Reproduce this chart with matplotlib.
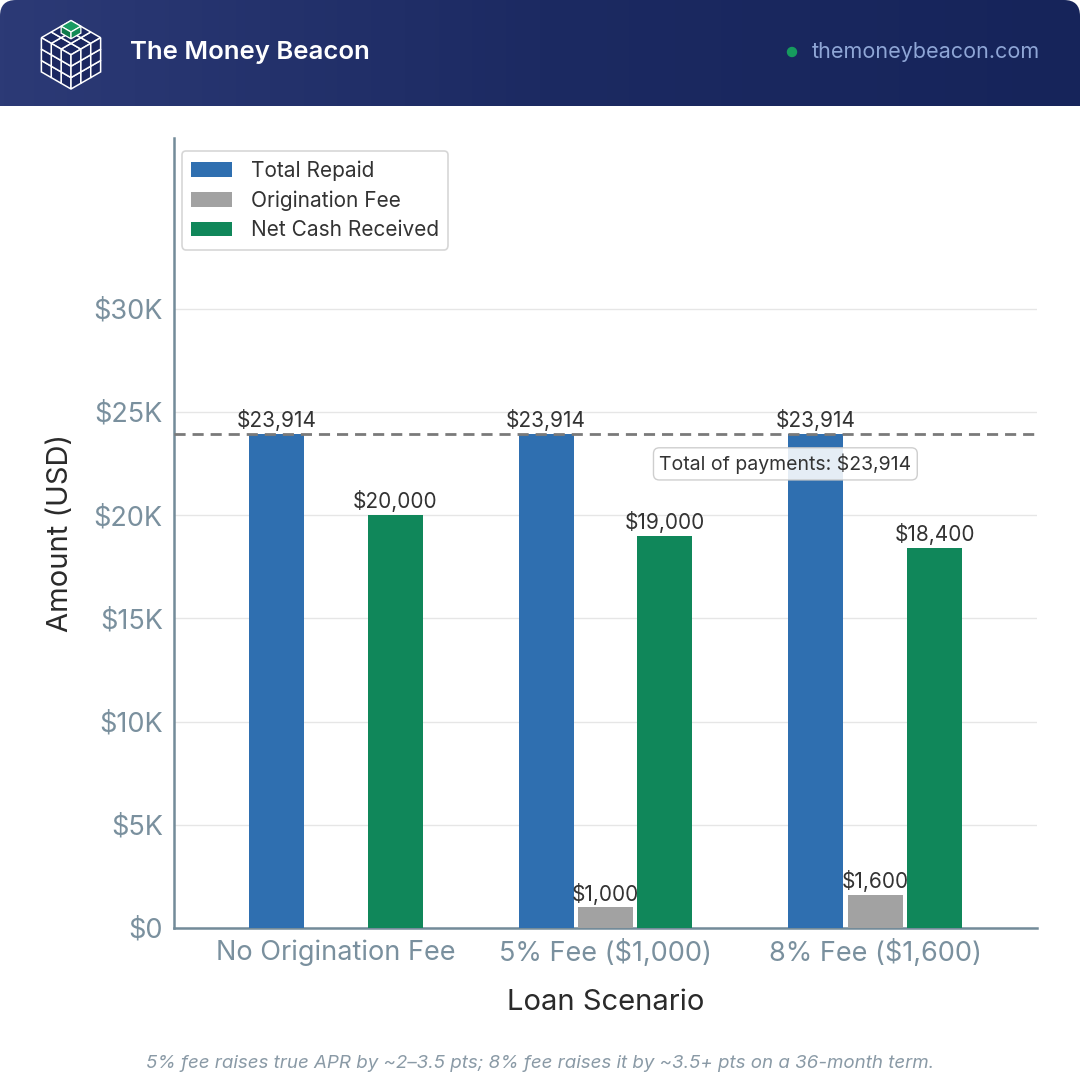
import numpy as np
import matplotlib
matplotlib.use("Agg")
import matplotlib.pyplot as plt
from matplotlib.patches import FancyBboxPatch, Polygon, Circle
from matplotlib.colors import LinearSegmentedColormap
from matplotlib.ticker import FuncFormatter

plt.rcParams['font.family'] = ['Inter', 'DejaVu Sans']

# %% data
scenarios = ["No Origination Fee", "5% Fee ($1,000)", "8% Fee ($1,600)"]
total_repaid = [23914, 23914, 23914]
orig_fee = [0, 1000, 1600]
net_cash = [20000, 19000, 18400]
series_names = ["Total Repaid", "Origination Fee", "Net Cash Received"]
total_payments = 23914
y_ticks = [0, 5000, 10000, 15000, 20000, 25000, 30000]
footer = "5% fee raises true APR by ~2\u20133.5 pts; 8% fee raises it by ~3.5+ pts on a 36-month term."

blue = "#2f6fb0"
grey = "#a2a2a2"
green = "#10875a"
spine_col = "#738b99"
tick_col = "#7a909e"

fig = plt.figure(figsize=(10.8, 10.8), dpi=100)
fig.patch.set_facecolor("white")

# %% header band
hdr = fig.add_axes([0, 1 - 106 / 1080, 1, 106 / 1080])
hdr.set_xlim(0, 1080)
hdr.set_ylim(0, 106)
hdr.axis("off")
cmap = LinearSegmentedColormap.from_list("hdr", ["#2c3a76", "#1c2a62", "#16245a"])
grad = np.linspace(0, 1, 256).reshape(1, -1)
im = hdr.imshow(grad, cmap=cmap, extent=[0, 1080, 0, 106], aspect="auto", zorder=0)
clip = FancyBboxPatch((0, -30), 1080, 136, boxstyle="round,pad=0,rounding_size=16",
                      transform=hdr.transData, facecolor="none", edgecolor="none")
hdr.add_patch(clip)
im.set_clip_path(clip)

# logo: isometric 3x3x3 cube
c30, s30 = np.cos(np.pi / 6), np.sin(np.pi / 6)
sc, ox, oy = 11.4, 71, 17


def proj(x, y, z):
    return (ox + (x - y) * c30 * sc, oy + ((x + y) * s30 + z) * sc)


def cell(pts, fc, lw=1.1):
    hdr.add_patch(Polygon([proj(*p) for p in pts], closed=True, facecolor=fc,
                          edgecolor="white", linewidth=lw, zorder=3))


navy = "#1b2760"
for a in range(3):
    for b in range(3):
        cell([(0, a, b), (0, a + 1, b), (0, a + 1, b + 1), (0, a, b + 1)], navy)
        cell([(a, 0, b), (a + 1, 0, b), (a + 1, 0, b + 1), (a, 0, b + 1)], navy)
        cell([(a, b, 3), (a + 1, b, 3), (a + 1, b + 1, 3), (a, b + 1, 3)], navy)
# green top cube
cell([(2, 2, 3), (3, 2, 3), (3, 3, 3), (2, 3, 3)], "#1a9b62", lw=0.9)
cell([(2, 2, 2.4), (2, 3, 2.4), (2, 3, 3), (2, 2, 3)], "#0f7a4b", lw=0.9)
cell([(2, 2, 2.4), (3, 2, 2.4), (3, 2, 3), (2, 2, 3)], "#138a55", lw=0.9)

hdr.text(130, 54, "The Money Beacon", color="white", fontsize=18.5,
         fontweight="semibold", va="center", ha="left", zorder=4)
hdr.add_patch(Circle((792, 54), 4.5, color="#169b5e", zorder=4))
hdr.text(1040, 54, "themoneybeacon.com", color="#8fa6d6", fontsize=15.5,
         va="center", ha="right", zorder=4)

# %% main chart
ax = fig.add_axes([174 / 1080, 1 - 928 / 1080, 863 / 1080, 790 / 1080])
x = np.arange(len(scenarios))
w = 0.205
off = 0.22
b1 = ax.bar(x - off, total_repaid, w, color=blue, label=series_names[0], zorder=3)
b2 = ax.bar(x, orig_fee, w, color=grey, label=series_names[1], zorder=3)
b3 = ax.bar(x + off, net_cash, w, color=green, label=series_names[2], zorder=3)

for bars in (b1, b2, b3):
    for r in bars:
        h = r.get_height()
        if h <= 0:
            continue
        ax.annotate(f"${h:,.0f}", xy=(r.get_x() + r.get_width() / 2, h),
                    xytext=(0, 2), textcoords="offset points", ha="center",
                    va="bottom", fontsize=15, color="#333333", zorder=5)

ax.axhline(total_payments, color="#7a7a7a", linestyle=(0, (4, 2.5)), linewidth=2, zorder=4)
ax.text(1.667, total_payments * 0.94, f"Total of payments: ${total_payments:,}",
        ha="center", va="center", fontsize=14, color="#333333", zorder=6,
        bbox=dict(boxstyle="round,pad=0.3,rounding_size=0.3", facecolor="white",
                  edgecolor="#c8c8c8", alpha=0.88))

ax.set_xlim(-0.6, 2.6)
ax.set_ylim(0, total_payments * 1.6)
ax.set_yticks(y_ticks)
ax.yaxis.set_major_formatter(FuncFormatter(lambda v, p: "$0" if v == 0 else f"${v / 1000:.0f}K"))
ax.set_xticks(x)
ax.set_xticklabels(scenarios)
ax.tick_params(axis="both", length=0, labelsize=19.5, labelcolor=tick_col, pad=8)
ax.grid(axis="y", color="#e6e6e6", linewidth=1, zorder=0)
ax.set_axisbelow(True)
for s in ("top", "right"):
    ax.spines[s].set_visible(False)
for s in ("left", "bottom"):
    ax.spines[s].set_color(spine_col)
    ax.spines[s].set_linewidth(1.8)
ax.set_ylabel("Amount (USD)", fontsize=21, color="#2a2a2a", labelpad=14)
ax.set_xlabel("Loan Scenario", fontsize=21, color="#2a2a2a", labelpad=16)

leg = ax.legend(loc="upper left", fontsize=15, frameon=True, fancybox=True,
                handlelength=1.95, handleheight=0.68, handletextpad=0.9,
                borderpad=0.45, labelspacing=0.45, borderaxespad=0,
                bbox_to_anchor=(8 / 863, 1 - 13 / 790))
leg.get_frame().set_edgecolor("#cccccc")
leg.get_frame().set_linewidth(1.2)
for t in leg.get_texts():
    t.set_color("#333333")

fig.text(0.5, 1 - 1063 / 1080, footer, ha="center", va="center", fontsize=13.5,
         style="italic", color="#8a9aa6")

fig.savefig("out.png", dpi=100, facecolor="white")
